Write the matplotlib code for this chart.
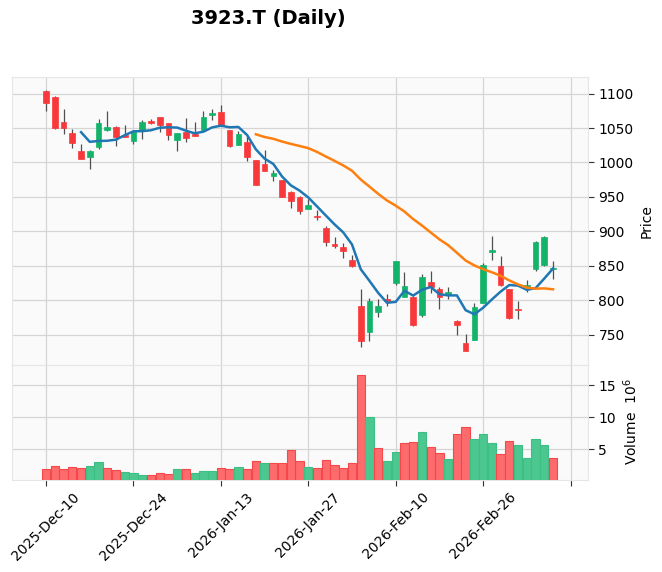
import numpy as np
import pandas as pd
import matplotlib
matplotlib.use('Agg')
import matplotlib.pyplot as plt

# trading days (TSE holidays removed)
holidays = ['2025-12-31', '2026-01-01', '2026-01-02', '2026-01-12', '2026-02-11', '2026-02-23']
dates = pd.bdate_range('2025-12-10', '2026-03-10')
dates = dates[~dates.isin(pd.to_datetime(holidays))]

opens = [1103.9, 1095.2, 1058.3, 1042.3, 1016.2, 1007.9, 1022.5, 1047.7, 1051.1, 1040.4,
         1031.2, 1045.7, 1060.3, 1065.6, 1056.9, 1033.1, 1043.8, 1041.9, 1046.7, 1069.0,
         1073.8, 1046.7, 1025.9, 1030.2, 1003.1, 997.3, 980.3, 975.0, 956.6, 949.8,
         932.4, 922.8, 905.4, 881.3, 877.7, 858.9, 792.4, 754.8, 783.8, 802.5,
         824.7, 805.4, 805.4, 779.4, 826.2, 816.5, 807.3, 770.7, 738.5, 742.3,
         795.7, 870.2, 849.5, 815.9, 787.5, 819.0, 845.7, 851.9, 845.2]
highs = [1104.5, 1096.1, 1078.2, 1049.1, 1027.3, 1018.6, 1063.7, 1074.3, 1052.5, 1054.0,
         1046.7, 1061.2, 1063.7, 1065.8, 1057.2, 1042.5, 1065.1, 1058.8, 1074.8, 1078.2,
         1083.0, 1047.7, 1045.3, 1039.4, 1003.3, 1018.6, 989.5, 975.2, 958.5, 950.8,
         947.4, 931.0, 908.1, 892.2, 883.0, 865.7, 816.5, 803.0, 802.1, 809.3,
         857.0, 841.6, 806.0, 838.2, 842.1, 818.9, 819.9, 772.1, 751.0, 796.6,
         854.3, 892.8, 864.9, 816.1, 799.0, 828.9, 885.6, 893.8, 857.7]
lows = [1074.3, 1048.2, 1041.9, 1021.5, 1004.5, 991.0, 1020.0, 1045.3, 1023.4, 1036.8,
        1026.4, 1034.6, 1056.4, 1044.3, 1032.2, 1016.2, 1029.7, 1038.3, 1046.5, 1062.2,
        1054.7, 1022.5, 1024.9, 1001.6, 967.5, 987.4, 972.6, 949.6, 934.3, 925.6,
        932.2, 916.6, 878.9, 875.8, 861.3, 848.8, 732.2, 741.8, 775.5, 792.4,
        822.8, 805.2, 763.0, 775.5, 810.2, 787.6, 802.1, 749.5, 726.7, 742.1,
        795.5, 858.2, 821.4, 773.6, 772.6, 812.0, 843.3, 850.5, 830.3]
closes = [1086.4, 1050.3, 1049.8, 1028.3, 1005.0, 1016.2, 1056.9, 1051.1, 1036.6, 1037.2,
          1044.3, 1058.3, 1057.4, 1054.9, 1040.4, 1042.3, 1035.6, 1038.5, 1066.6, 1071.4,
          1054.9, 1023.9, 1040.9, 1007.9, 967.7, 987.6, 985.2, 949.8, 944.0, 929.5,
          937.7, 920.4, 884.2, 879.6, 871.0, 850.2, 740.9, 799.6, 792.5, 799.6,
          856.5, 821.3, 765.0, 834.3, 819.9, 804.5, 812.5, 764.9, 726.9, 790.4,
          851.9, 872.6, 821.6, 775.0, 785.6, 822.0, 884.1, 891.8, 847.6]
# volume in millions of shares
volumes = [1.88, 2.34, 1.88, 2.19, 2.03, 2.34, 2.97, 2.03, 1.72, 1.41,
           1.25, 0.94, 0.94, 1.25, 1.09, 1.88, 1.88, 1.25, 1.56, 1.56,
           2.03, 1.88, 2.19, 1.88, 3.13, 2.81, 2.81, 2.81, 4.84, 3.13,
           2.19, 2.03, 3.28, 2.50, 2.03, 2.81, 16.56, 10.0, 5.16, 3.18,
           4.58, 5.99, 6.15, 7.71, 5.36, 4.43, 3.49, 7.40, 8.49, 6.61,
           7.40, 5.99, 4.27, 6.30, 5.68, 3.65, 6.61, 5.68, 3.65]
mav_periods = [5, 25]

df = pd.DataFrame({'Open': opens, 'High': highs, 'Low': lows,
                   'Close': closes, 'Volume': volumes}, index=dates)
x = np.arange(len(df))

up_col, down_col = '#13b36a', '#f8383b'
vup_col, vdown_col = '#4dc790', '#fd6b6c'
grid_col = '#d5d5d5'

fig = plt.figure(figsize=(6.62, 5.72), dpi=100)
ax = fig.add_axes([12/662, 1 - 364.5/572, 576/662, 287.5/572])
axv = fig.add_axes([12/662, 1 - 479.5/572, 576/662, 115/572], sharex=ax)

for a in (ax, axv):
    a.set_facecolor('#fafafa')
    a.grid(True, color=grid_col, linewidth=0.9)
    a.set_axisbelow(True)
    for s in a.spines.values():
        s.set_color('#e6e6e6')
    a.yaxis.tick_right()
    a.yaxis.set_label_position('right')
    a.tick_params(labelsize=10, length=4, color='#333333')

# candles
is_up = df.Close >= df.Open
colors = np.where(is_up, up_col, down_col)
body_lo = np.minimum(df.Open, df.Close)
body_h = np.maximum((df.Close - df.Open).abs(), 0.8)
ax.vlines(x, df.Low, df.High, color='#505050', linewidth=0.9, zorder=2)
ax.bar(x, body_h, bottom=body_lo, width=0.65, color=colors, edgecolor=colors,
       linewidth=0.5, zorder=3)

# moving averages
for p, c in zip(mav_periods, ['#1f77b4', '#ff7f0e']):
    ma = df.Close.rolling(p).mean()
    ax.plot(x, ma, color=c, linewidth=1.8, zorder=4)

ax.set_ylim(707, 1124)
ax.set_yticks([750, 800, 850, 900, 950, 1000, 1050, 1100])
ax.set_ylabel('Price', fontsize=10)
ax.tick_params(axis='x', bottom=False, labelbottom=False)

# volume, coloured by close vs previous close
prev = df.Close.shift(1)
vup = (df.Close > prev).to_numpy()
vup[0] = df.Close.iloc[0] > df.Open.iloc[0]
vcolors = np.where(vup, vup_col, vdown_col)
vedges = np.where(vup, '#3cbf84', '#f5484b')
axv.bar(x, df.Volume, width=0.95, color=vcolors, edgecolor=vedges, linewidth=0.8, zorder=3)
axv.set_ylim(0.3 * min(volumes), 1.1 * max(volumes))
axv.set_yticks([5, 10, 15])
axv.set_ylabel('Volume  $10^{6}$', fontsize=10)

ticks = list(range(0, 61, 10))
labels = [dates[i].strftime('%Y-%b-%d') if i < len(dates) else '' for i in ticks]
axv.set_xticks(ticks)
axv.set_xticklabels(labels, rotation=45, ha='center')
axv.set_xlim(-3.9, 62.0)

fig.text(268/662, 1 - 18/572, '3923.T (Daily)', fontsize=14, fontweight='bold',
         ha='center', va='center')

fig.savefig('out.png', dpi=100)
